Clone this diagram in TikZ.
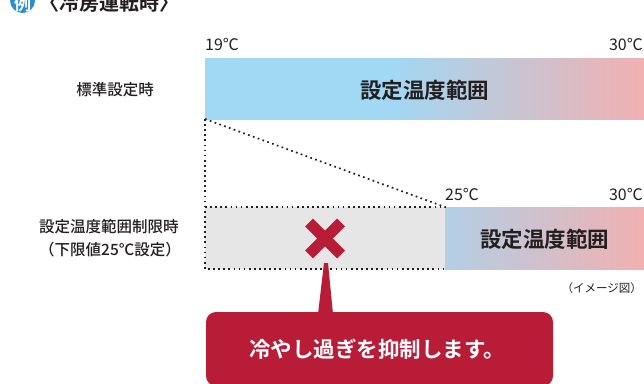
\documentclass[tikz,border=0pt]{standalone}
\usepackage{fontspec}
\usetikzlibrary{calc}
\setmainfont{Noto Sans CJK JP}[BoldFont={Noto Sans CJK JP Bold}]
\newfontfamily\medfont{Noto Sans CJK JP Medium}
\definecolor{barblue}{HTML}{A1D8F4}
\definecolor{barpink}{HTML}{F1B0B0}
\definecolor{boxgray}{HTML}{E6E6E6}
\definecolor{accentred}{HTML}{B81C37}
\definecolor{titleblue}{HTML}{2A8FD0}
\definecolor{inkdark}{HTML}{231F20}
\pgfdeclarehorizontalshading{tempgrad}{100bp}{color(0bp)=(barblue); color(25bp)=(barblue); color(46bp)=(barblue); color(75bp)=(barpink); color(100bp)=(barpink)}
\begin{document}
\begin{tikzpicture}[x=1pt,y=-1pt,
  lbl/.style={inner sep=0pt, text=inkdark, font=\medfont\fontsize{15.5}{19}\selectfont},
  templbl/.style={inner sep=0pt, text=inkdark, font=\fontsize{16}{18}\selectfont},
  bartext/.style={inner sep=0pt, text=inkdark, font=\bfseries\fontsize{21.5}{24}\selectfont},
  dotline/.style={draw=inkdark, line width=1.7pt, dash pattern=on 1.7pt off 3.4pt},
  crossmark/.style={draw=accentred, line width=11pt},
]
\useasboundingbox (0,0) rectangle (644,383);
\clip (0,0) rectangle (644,383);

% title
\node[circle, fill=titleblue, minimum size=25pt, inner sep=0pt] (badge) at (22.5,0.5) {};
\node[anchor=base, inner sep=0pt, text=white, font=\bfseries\fontsize{17}{17}\selectfont] (badgetext) at (22.5,10.5) {例};
\node[anchor=base west, inner sep=0pt, text=inkdark, font=\bfseries\fontsize{20}{20}\selectfont] (title) at (39,10.5) {〈冷房運転時〉};

% standard setting bar
\coordinate (b1nw) at (205,58);
\coordinate (b1se) at (644,119);
\shade[shading=tempgrad] (b1nw) rectangle (b1se);
\node[minimum width=439pt, minimum height=61pt, inner sep=0pt, anchor=north west] (bar1) at (b1nw) {};
\node[bartext] (bar1text) at (424.5,90) {設定温度範囲};
\node[templbl, anchor=west] (t19) at (205,44) {19℃};
\node[templbl, anchor=east] (t30a) at (643,44) {30℃};
\node[lbl] (stdlabel) at (115,90) {標準設定時};

% limited setting
\coordinate (g_nw) at (205,207);
\coordinate (g_ne) at (445,207);
\coordinate (g_sw) at (205,269);
\coordinate (g_se) at (445,269);
\coordinate (b1sw) at (205,119);
\fill[boxgray] (g_nw) rectangle (g_se);
\begin{scope}
  \clip (g_ne) rectangle (644,269);
  \shade[shading=tempgrad] (g_nw) rectangle (644,269);
\end{scope}
\node[minimum width=199pt, minimum height=62pt, inner sep=0pt, anchor=north west] (bar2) at (g_ne) {};
\node[bartext] (bar2text) at (544.5,239) {設定温度範囲};
\node[templbl, anchor=west] (t25) at (445,194) {25℃};
\node[templbl, anchor=east] (t30b) at (643,194) {30℃};

\draw[dotline] (b1sw) -- (g_sw) -- (g_se);
\draw[dotline] (g_nw) -- (g_ne);
\draw[dotline] (b1sw) -- (g_ne);

\node[lbl, anchor=west] (limlabel1) at (39,227) {設定温度範囲制限時};
\node[lbl, anchor=west] (limlabel2) at (39,249.5) {（下限値25℃設定）};

% cross
\coordinate (xc) at (325,238.5);
\draw[crossmark] ($(xc)+(-16,-16)$) -- ($(xc)+(16,16)$);
\draw[crossmark] ($(xc)+(-16,16)$) -- ($(xc)+(16,-16)$);

% callout
\fill[accentred, rounded corners=10pt] (206,312) rectangle (553,386);
\fill[accentred] (318,314) -- (324,263) -- (328,263) -- (333,314) -- cycle;
\node[inner sep=0pt, text=white, font=\bfseries\fontsize{21.5}{24}\selectfont] (callout) at (377,349) {冷やし過ぎを抑制します。};

\node[inner sep=0pt, anchor=east, text=inkdark, font=\fontsize{11.5}{14}\selectfont] (imgnote) at (642,288) {（イメージ図）};
\end{tikzpicture}
\end{document}
